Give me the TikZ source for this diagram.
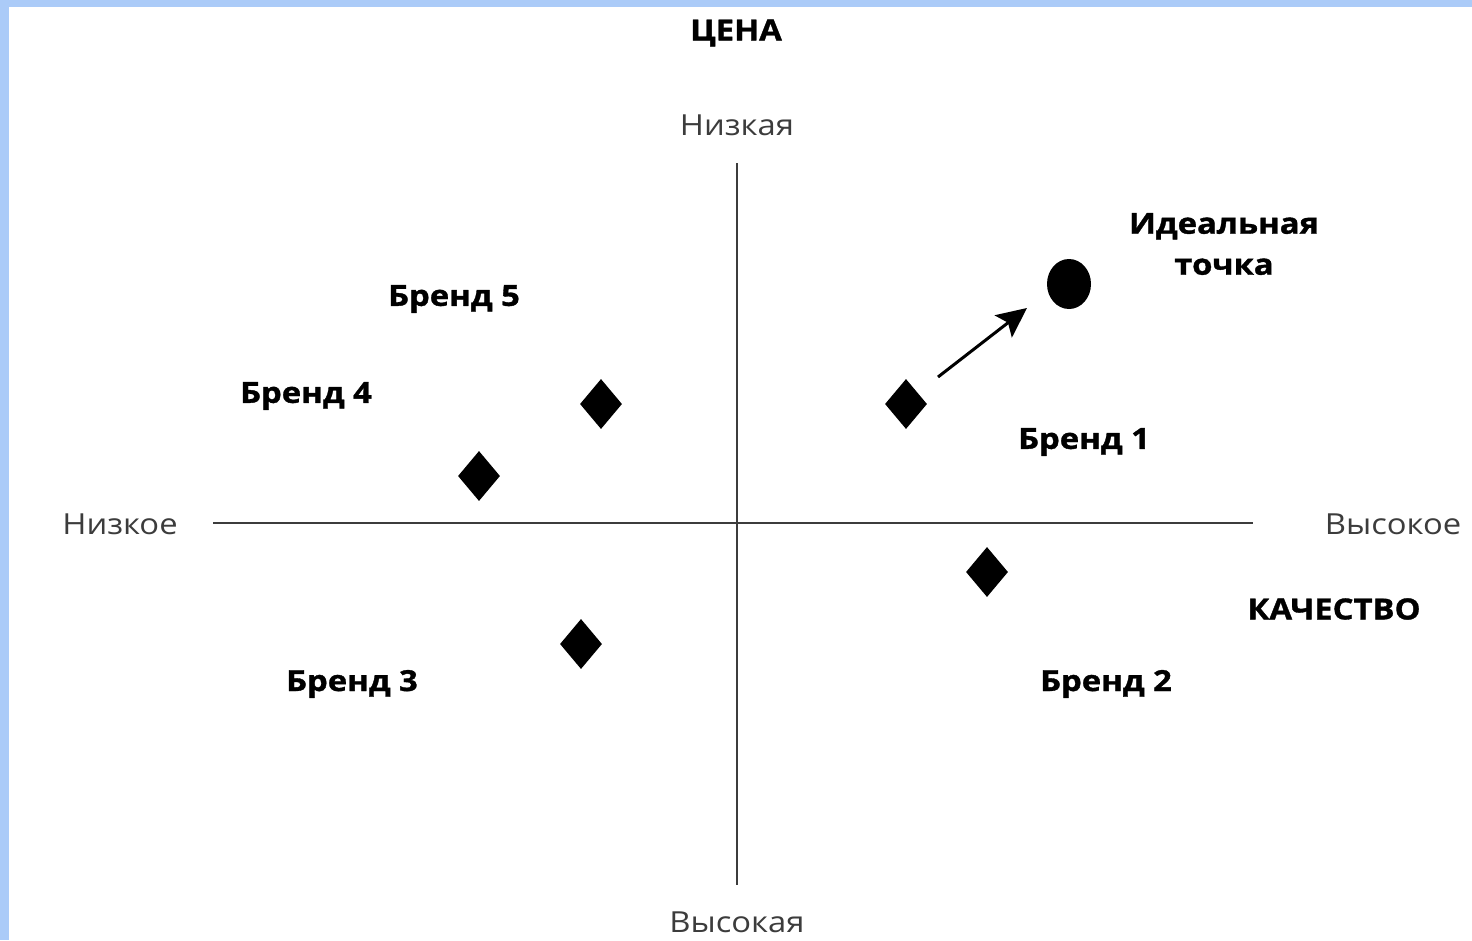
\documentclass[tikz,border=0pt]{standalone}
\usepackage{fontspec}
\setmainfont{Open Sans}[FakeStretch=1.13, BoldFeatures={FakeBold=1.2}]
\usetikzlibrary{shapes.geometric,arrows.meta}

\definecolor{frameblue}{RGB}{171,203,248}
\definecolor{axisgray}{RGB}{60,60,60}

\tikzset{
  axislabel/.style={text=axisgray, font=\fontsize{29}{41}\selectfont},
  brandlabel/.style={font=\fontsize{29}{41}\selectfont\bfseries},
  brand/.style={diamond, fill=black, minimum width=42pt, minimum height=50pt, inner sep=0pt, aspect=0.84},
}

\begin{document}
\begin{tikzpicture}[x=1pt, y=-1pt]
  \useasboundingbox (0,0) rectangle (1472,940);

  % Frame
  \fill[frameblue] (0,0) rectangle (1472,940);
  \fill[white] (9,7) rectangle (1472,940);

  % Axes
  \coordinate (xl) at (213,523);
  \coordinate (xr) at (1253,523);
  \coordinate (yt) at (737,163);
  \coordinate (yb) at (737,885);
  \draw[axisgray, line width=2pt] (xl) -- (xr);
  \draw[axisgray, line width=2pt] (yt) -- (yb);

  % Axis labels
  \node[brandlabel] (price) at (736,33) {ЦЕНА};
  \node[axislabel] (plow) at (737,125) {Низкая};
  \node[axislabel] (phigh) at (737,922) {Высокая};
  \node[axislabel] (qlow) at (120,524) {Низкое};
  \node[axislabel] (qhigh) at (1393,524) {Высокое};
  \node[brandlabel] (quality) at (1334,609) {КАЧЕСТВО};

  % Brands
  \foreach \name/\x/\y in {b1/906/404, b2/987/572, b3/581/644, b4/479/476, b5/601/404}
    \node[brand] (\name) at (\x,\y) {};
  \node[brandlabel] (l1) at (1084,442) {Бренд 1};
  \node[brandlabel] (l2) at (1106,684) {Бренд 2};
  \node[brandlabel] (l3) at (352,684) {Бренд 3};
  \node[brandlabel] (l4) at (306,396) {Бренд 4};
  \node[brandlabel] (l5) at (454,299) {Бренд 5};

  % Ideal point
  \node[ellipse, fill=black, minimum width=44pt, minimum height=50pt, inner sep=0pt] (ideal) at (1069,284) {};
  \node[brandlabel, align=center] (lideal) at (1224,244) {Идеальная\\точка};

  % Move towards the ideal point
  \coordinate (mvs) at (938,377);
  \coordinate (mve) at (1027,308);
  \draw[-{Stealth[length=30pt, width=28pt, inset=6pt]}, line width=3pt] (mvs) -- (mve);
\end{tikzpicture}
\end{document}
